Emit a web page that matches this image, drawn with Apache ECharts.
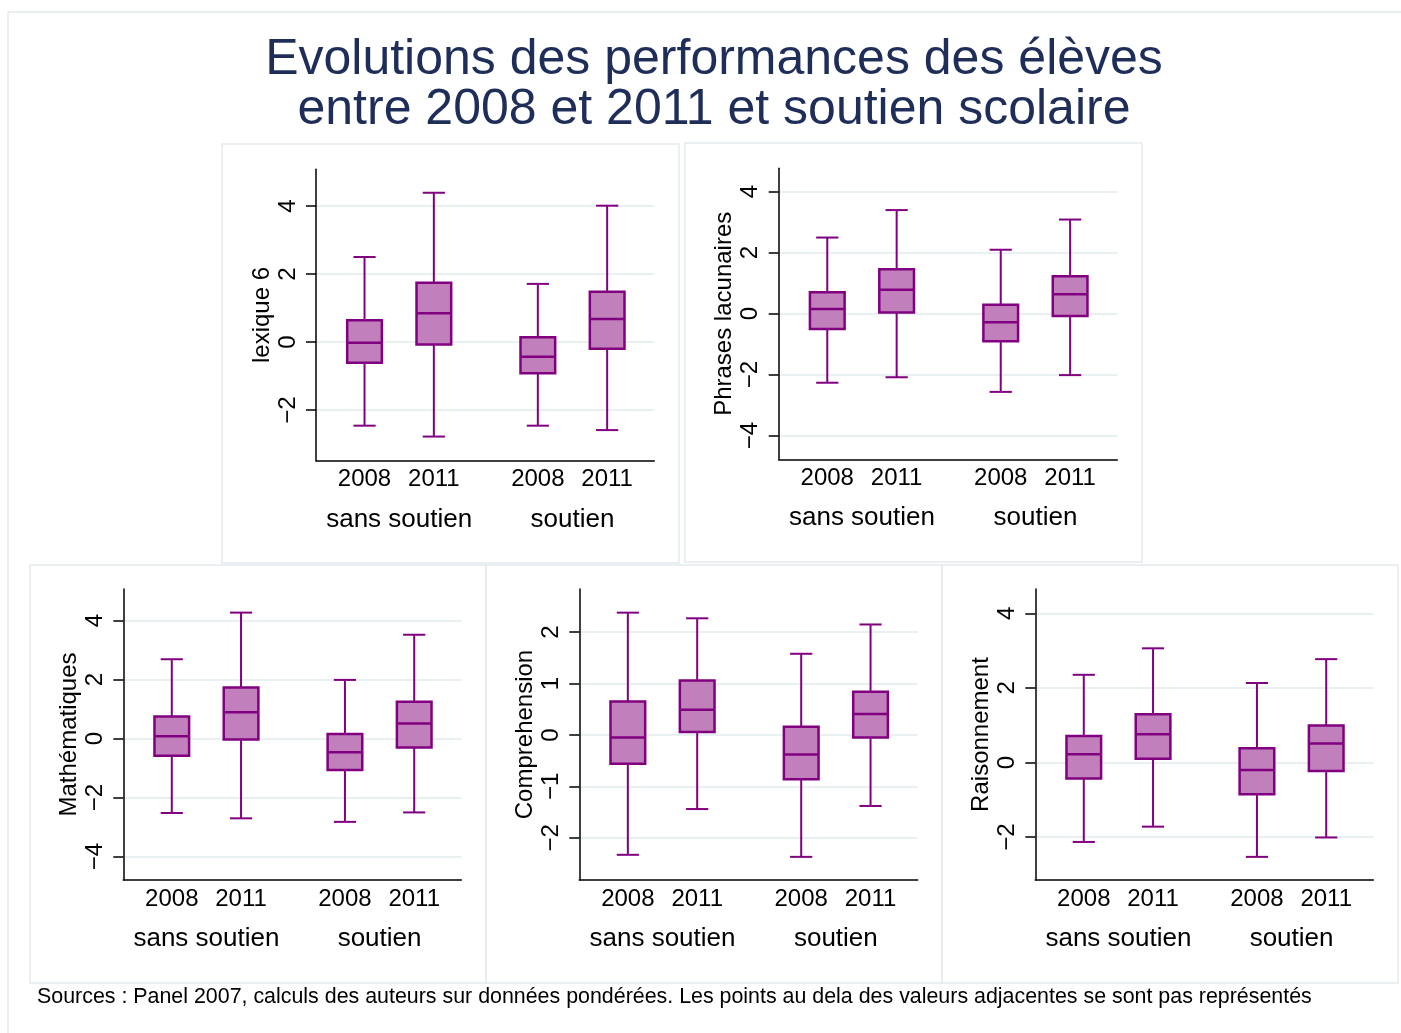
<!DOCTYPE html>
<html>
<head>
<meta charset="utf-8">
<script src="https://cdn.jsdelivr.net/npm/echarts@6.0.0/dist/echarts.min.js"></script>
<style>
html,body{margin:0;padding:0;background:#ffffff;}
#chart{width:1401px;height:1033px;}
</style>
</head>
<body>
<div id="chart"></div>
<script>
// ---------- DATA ----------
const groups = ['sans soutien', 'soutien'];
const groupPositions = [1.5, 4];
const years = ['2008', '2011', '2008', '2011'];
const boxPositions = [1, 2, 3.5, 4.5];
// each box: [lower adjacent, Q1, median, Q3, upper adjacent]
const lexique6 = [
  [-2.46, -0.61, -0.02, 0.64, 2.50],
  [-2.78, -0.07, 0.85, 1.74, 4.39],
  [-2.46, -0.92, -0.43, 0.14, 1.71],
  [-2.59, -0.20, 0.68, 1.48, 4.01]
];
const phrasesLacunaires = [
  [-2.27, -0.51, 0.15, 0.70, 2.49],
  [-2.09, 0.03, 0.78, 1.45, 3.39],
  [-2.57, -0.91, -0.29, 0.29, 2.09],
  [-2.02, -0.08, 0.63, 1.22, 3.08]
];
const mathematiques = [
  [-2.52, -0.58, 0.08, 0.75, 2.69],
  [-2.70, -0.03, 0.89, 1.73, 4.27],
  [-2.82, -1.06, -0.46, 0.16, 1.99],
  [-2.50, -0.30, 0.51, 1.25, 3.52]
];
const comprehension = [
  [-2.33, -0.56, -0.05, 0.65, 2.38],
  [-1.44, 0.06, 0.49, 1.06, 2.27],
  [-2.37, -0.86, -0.38, 0.16, 1.58],
  [-1.38, -0.05, 0.41, 0.84, 2.15]
];
const raisonnement = [
  [-2.13, -0.43, 0.22, 0.71, 2.35],
  [-1.72, 0.10, 0.76, 1.29, 3.06],
  [-2.53, -0.85, -0.20, 0.38, 2.13],
  [-2.01, -0.23, 0.51, 0.99, 2.77]
];
const ticksLexique = [-2, 0, 2, 4];
const ticksPhrases = [-4, -2, 0, 2, 4];
const ticksMaths = [-4, -2, 0, 2, 4];
const ticksComprehension = [-2, -1, 0, 1, 2];
const ticksRaisonnement = [-2, 0, 2, 4];
const yNames = ['lexique 6', 'Phrases lacunaires', 'Mathématiques', 'Comprehension', 'Raisonnement'];
const titleText = 'Evolutions des performances des élèves\nentre 2008 et 2011 et soutien scolaire';
const sourceText = 'Sources : Panel 2007, calculs des auteurs sur données pondérées. Les points au dela des valeurs adjacentes se sont pas représentés';

// ---------- LAYOUT / STYLE ----------
const FONT = '"Liberation Sans", Arial, Helvetica, sans-serif';
const PURPLE = '#800080';
const FILL = '#c17fbc';
const GRIDLINE = '#e9f0f2';
const BORDER = '#e4eced';
const BOX_W = 0.5;
const CAP_W = 0.32;

const panels = [
  { data: lexique6, ticks: ticksLexique, min: -3.49, max: 5.08, rect: [316, 169.3, 338.3, 291.4], frame: [222, 144, 457, 419] },
  { data: phrasesLacunaires, ticks: ticksPhrases, min: -4.78, max: 4.76, rect: [778.7, 168.3, 338.6, 291], frame: [685, 143, 457, 419] },
  { data: mathematiques, ticks: ticksMaths, min: -4.79, max: 5.07, rect: [123.3, 589, 338, 291], frame: [30, 565, 456, 418] },
  { data: comprehension, ticks: ticksComprehension, min: -2.82, max: 2.84, rect: [579.3, 589, 338.4, 291], frame: [486, 565, 456, 418] },
  { data: raisonnement, ticks: ticksRaisonnement, min: -3.15, max: 4.65, rect: [1035.3, 589, 338, 291], frame: [942, 565, 456, 418] }
];

function fmtNum(v) {
  return v < 0 ? '\u2212' + Math.abs(v) : String(v);
}

function renderBox(params, api) {
  const x = api.value(0);
  const lo = api.value(1), q1 = api.value(2), med = api.value(3), q3 = api.value(4), hi = api.value(5);
  const bw = api.size([BOX_W, 0])[0];
  const cw = api.size([CAP_W, 0])[0];
  const pLo = api.coord([x, lo]);
  const pQ1 = api.coord([x, q1]);
  const pMed = api.coord([x, med]);
  const pQ3 = api.coord([x, q3]);
  const pHi = api.coord([x, hi]);
  const lineStyle = { stroke: PURPLE, lineWidth: 2, fill: null };
  const cx = pMed[0];
  return {
    type: 'group',
    children: [
      { type: 'line', shape: { x1: cx, y1: pHi[1], x2: cx, y2: pQ3[1] }, style: lineStyle },
      { type: 'line', shape: { x1: cx, y1: pQ1[1], x2: cx, y2: pLo[1] }, style: lineStyle },
      { type: 'line', shape: { x1: cx - cw / 2, y1: pHi[1], x2: cx + cw / 2, y2: pHi[1] }, style: lineStyle },
      { type: 'line', shape: { x1: cx - cw / 2, y1: pLo[1], x2: cx + cw / 2, y2: pLo[1] }, style: lineStyle },
      { type: 'rect', shape: { x: cx - bw / 2, y: pQ3[1], width: bw, height: pQ1[1] - pQ3[1] },
        style: { fill: FILL, stroke: PURPLE, lineWidth: 2.5 } },
      { type: 'line', shape: { x1: cx - bw / 2, y1: pMed[1], x2: cx + bw / 2, y2: pMed[1] }, style: { stroke: PURPLE, lineWidth: 2.5 } }
    ]
  };
}

const grid = [], xAxis = [], yAxis = [], series = [], graphic = [];

// outer border
graphic.push({ type: 'rect', silent: true, shape: { x: 8, y: 12, width: 1400, height: 1030 },
  style: { fill: null, stroke: BORDER, lineWidth: 1.5 } });

panels.forEach((p, i) => {
  graphic.push({ type: 'rect', silent: true, shape: { x: p.frame[0], y: p.frame[1], width: p.frame[2], height: p.frame[3] },
    style: { fill: '#ffffff', stroke: BORDER, lineWidth: 1.5 }, z: -1 });
  grid.push({ left: p.rect[0], top: p.rect[1], width: p.rect[2], height: p.rect[3], containLabel: false, outerBoundsMode: 'none' });
  // years axis
  xAxis.push({
    type: 'value', gridIndex: i, min: 0.3, max: 5.18, position: 'bottom',
    axisLine: { show: true, onZero: false, lineStyle: { color: '#000', width: 1.5 } },
    axisTick: { show: false },
    splitLine: { show: false },
    axisLabel: {
      customValues: boxPositions, margin: 7,
      formatter: v => years[boxPositions.indexOf(v)],
      fontFamily: FONT, fontSize: 24, color: '#000'
    }
  });
  // groups axis
  xAxis.push({
    type: 'value', gridIndex: i, min: 0.3, max: 5.18, position: 'bottom',
    axisLine: { show: false }, axisTick: { show: false }, splitLine: { show: false },
    axisLabel: {
      customValues: groupPositions, margin: 46,
      formatter: v => groups[groupPositions.indexOf(v)],
      fontFamily: FONT, fontSize: 26, color: '#000'
    }
  });
  yAxis.push({
    type: 'value', gridIndex: i, min: p.min, max: p.max,
    name: yNames[i], nameLocation: 'middle', nameGap: 42, nameRotate: 90, nameMoveOverlap: false,
    nameTextStyle: { fontFamily: FONT, fontSize: 24, color: '#000' },
    axisLine: { show: true, onZero: false, lineStyle: { color: '#000', width: 1.5 } },
    axisTick: { show: true, length: 10, customValues: p.ticks, lineStyle: { color: '#000', width: 1.5 } },
    splitLine: { show: true, lineStyle: { color: GRIDLINE, width: 2 } },
    axisLabel: {
      customValues: p.ticks, rotate: 90, margin: 16,
      formatter: v => fmtNum(v),
      fontFamily: FONT, fontSize: 24, color: '#000'
    }
  });
  series.push({
    type: 'custom', xAxisIndex: 2 * i, yAxisIndex: i,
    renderItem: renderBox,
    encode: { x: 0, y: [1, 2, 3, 4, 5] },
    data: boxPositions.map((pos, k) => [pos].concat(p.data[k])),
    silent: true, animation: false, clip: false
  });
});

graphic.push({
  type: 'text', x: 37, y: 997, silent: true,
  style: { text: sourceText, fontFamily: FONT, fontSize: 21.4, fill: '#000', verticalAlign: 'middle', align: 'left' }
});

const chart = echarts.init(document.getElementById('chart'), null, { renderer: 'canvas' });
chart.setOption({
  backgroundColor: '#ffffff',
  animation: false,
  title: {
    text: titleText, left: 714, top: 35, textAlign: 'center', padding: 0,
    textStyle: { fontFamily: FONT, fontSize: 50, fontWeight: 'normal', color: '#1e2e59', lineHeight: 50 }
  },
  grid, xAxis, yAxis, series, graphic
});
</script>
</body>
</html>
